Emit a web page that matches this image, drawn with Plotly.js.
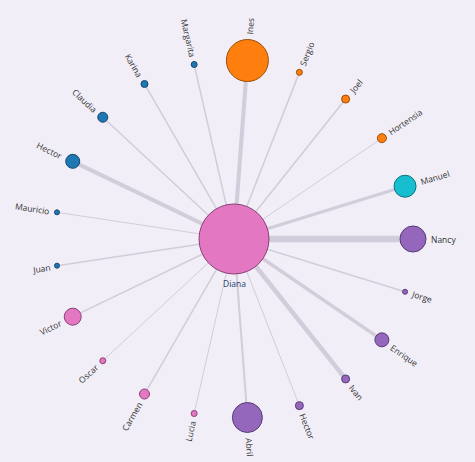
<!DOCTYPE html>
<html>
<head>
<meta charset="utf-8">
<script src="https://cdn.plot.ly/plotly-3.0.1.min.js"></script>
<style>html,body{margin:0;padding:0;background:#f1eef7;}#chart{width:475px;height:462px;}</style>
</head>
<body>
<div id="chart"></div>
<script>
// Central node
const centerName = "Diana";
const centerGroup = "pink";
const centerSize = 70;

// Peripheral nodes, in circular order (counter-clockwise starting at the right)
const names  = ["Nancy","Manuel","Hortensia","Joel","Sergio","Ines","Margarita","Karina","Claudia","Hector","Mauricio","Juan","Victor","Oscar","Carmen","Lucia","Abril","Hector","Ivan","Enrique","Jorge"];
const groups = ["purple","teal","orange","orange","orange","orange","blue","blue","blue","blue","blue","blue","pink","pink","pink","pink","purple","purple","purple","purple","purple"];
const sizes  = [26,22,9,8,6,42,6,7,10,14,5,5,17,6,10,6,30,8,8,14,5];
// Link weight between Diana and each node
const weights = [6.5,3,1,1.5,1.5,4,1.5,1.5,1.5,4,1,1.5,1.5,1,1.5,1,2,1,4.5,3.5,1.5];

const groupColors = {blue:"#1f77b4", orange:"#ff7f0e", teal:"#17becf", purple:"#9467bd", pink:"#e377c2"};
const groupBorders = {blue:"#14486f", orange:"#9a4a06", teal:"#0e7480", purple:"#553b74", pink:"#8a3f77"};

// circular layout
const R = 179;
const n = names.length;
const ang = names.map((_, i) => i * 2 * Math.PI / n);
const nx = ang.map(a => R * Math.cos(a));
const ny = ang.map(a => R * Math.sin(a));

const traces = [];
// edges
for (let i = 0; i < n; i++) {
  traces.push({
    type: "scatter", mode: "lines",
    x: [0, nx[i]], y: [0, ny[i]],
    line: {color: "rgba(198,194,208,0.75)", width: weights[i]},
    hoverinfo: "skip", showlegend: false
  });
}
// peripheral nodes
traces.push({
  type: "scatter", mode: "markers",
  x: nx, y: ny,
  marker: {
    size: sizes,
    color: groups.map(g => groupColors[g]),
    line: {color: groups.map(g => groupBorders[g]), width: 1},
    opacity: 1
  },
  hoverinfo: "skip", showlegend: false
});
// center
traces.push({
  type: "scatter", mode: "markers",
  x: [0], y: [0],
  marker: {size: centerSize, color: groupColors[centerGroup], line: {color: groupBorders[centerGroup], width: 1}},
  hoverinfo: "skip", showlegend: false
});

// labels
const fontSize = 8.5;
const cv = document.createElement("canvas").getContext("2d");
cv.font = fontSize + "px 'Open Sans'";
const annotations = [];
for (let i = 0; i < n; i++) {
  const w = cv.measureText(names[i]).width;
  const rl = R + sizes[i] / 2 + 5 + w / 2;
  const a = ang[i];
  const deg = a * 180 / Math.PI;
  let ta = Math.cos(a) >= 0 ? -deg : 180 - deg;
  if (ta > 180) ta -= 360;
  if (ta < -180) ta += 360;
  annotations.push({
    x: rl * Math.cos(a), y: rl * Math.sin(a),
    xref: "x", yref: "y", text: names[i], showarrow: false,
    textangle: ta, xanchor: "center", yanchor: "middle",
    font: {size: fontSize, color: "#333333", family: "Open Sans"}
  });
}
annotations.push({
  x: 0, y: -(centerSize / 2 + 9), xref: "x", yref: "y", text: centerName, showarrow: false,
  xanchor: "center", yanchor: "middle",
  font: {size: fontSize, color: "#2a3f6f", family: "Open Sans"}
});

const cx = 234, cy = 239, W = 475, H = 462;
const layout = {
  width: W, height: H,
  margin: {l: 0, r: 0, t: 0, b: 0, pad: 0},
  paper_bgcolor: "#f1eef7", plot_bgcolor: "#f1eef7",
  xaxis: {range: [-cx, W - cx], visible: false, fixedrange: true},
  yaxis: {range: [-(H - cy), cy], visible: false, fixedrange: true},
  annotations: annotations,
  showlegend: false
};
Plotly.newPlot("chart", traces, layout, {displayModeBar: false, staticPlot: true});
</script>
</body>
</html>
